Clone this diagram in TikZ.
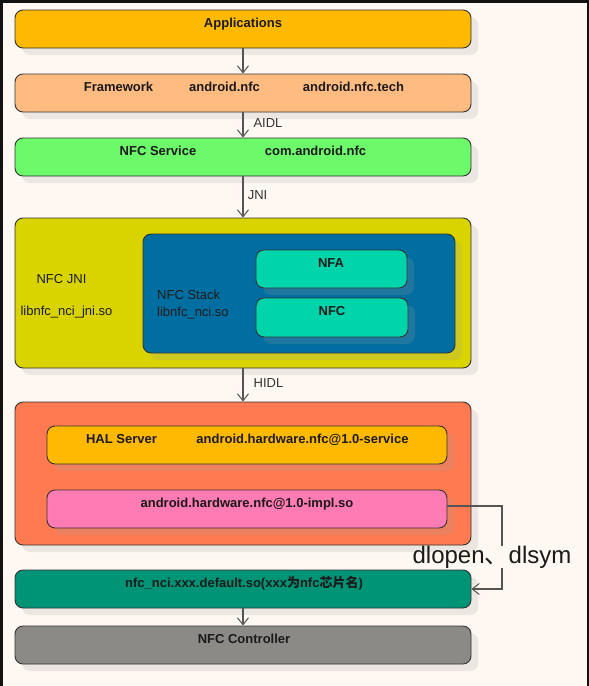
\documentclass[tikz,border=0pt]{standalone}
\usepackage{fontspec}
\setmainfont{Liberation Sans}
\newfontfamily\cjk{Noto Sans CJK SC}
\usetikzlibrary{shadows,arrows.meta}
\definecolor{bgc}{HTML}{FFF8F2}
\definecolor{cApp}{HTML}{FFB900}
\definecolor{cFw}{HTML}{FFBB80}
\definecolor{cSvc}{HTML}{6CF96A}
\definecolor{cJni}{HTML}{D9D300}
\definecolor{cStack}{HTML}{006EA0}
\definecolor{cNfa}{HTML}{00D4AA}
\definecolor{cHal}{HTML}{FF7A50}
\definecolor{cImpl}{HTML}{FF7BB4}
\definecolor{cNci}{HTML}{009477}
\definecolor{cCtl}{HTML}{8C8A86}
\definecolor{txt}{HTML}{1A1A1A}
\definecolor{lnc}{HTML}{555555}
\pgfdeclarelayer{bottom}
\pgfsetlayers{bottom,main}
\tikzset{
  box/.style={draw=black!80, line width=0.9pt, rounded corners=8pt, inner sep=0pt,
    drop shadow={shadow xshift=7pt, shadow yshift=-7pt, fill=gray!75, opacity=0.2}},
  btxt/.style={font=\fontsize{13}{15}\selectfont\bfseries, text=txt, inner sep=0pt, anchor=center, text height=9.3pt, text depth=0pt, yshift=-1pt},
  rtxt/.style={font=\fontsize{13}{15}\selectfont, text=txt, inner sep=0pt, anchor=center, text height=9.3pt, text depth=0pt, yshift=-1pt},
  ltxt/.style={font=\fontsize{13}{15}\selectfont, text=black!80, inner sep=0pt, anchor=center, text height=9.3pt, text depth=0pt},
  conn/.style={draw=lnc, line width=1.1pt, -{Straight Barb[length=7pt,width=11pt,line width=1pt]}},
  plain/.style={draw=lnc, line width=1.1pt}
}
\begin{document}
\begin{tikzpicture}[x=1pt,y=-1pt]
\useasboundingbox (0,0) rectangle (589,686);
\begin{pgfonlayer}{bottom}
\fill[bgc] (0,0) rectangle (589,686);
\fill[black!93] (0,0) rectangle (589,3);
\fill[black!93] (0,0) rectangle (3,686);
\fill[black!93] (587,0) rectangle (589,686);
\end{pgfonlayer}

% boxes
\node[box, fill=cApp, minimum width=456, minimum height=38] (app) at (243,29) {};
\node[box, fill=cFw, minimum width=456, minimum height=38] (fw) at (243,93) {};
\node[box, fill=cSvc, minimum width=456, minimum height=38] (svc) at (243,157) {};
\node[box, fill=cJni, minimum width=456, minimum height=150] (jni) at (243,293) {};
\node[box, fill=cStack, minimum width=312, minimum height=119] (stack) at (299,293.5) {};
\node[box, fill=cNfa, minimum width=151, minimum height=38] (nfa) at (331.5,269) {};
\node[box, fill=cNfa, minimum width=152, minimum height=39] (nfc) at (332,317.5) {};
\node[box, fill=cHal, minimum width=456, minimum height=143] (hal) at (243,473.5) {};
\node[box, fill=cApp, minimum width=400, minimum height=38] (halsrv) at (247,445) {};
\node[box, fill=cImpl, minimum width=400, minimum height=38] (impl) at (247,509) {};
\node[box, fill=cNci, minimum width=456, minimum height=38] (nci) at (243,589) {};
\node[box, fill=cCtl, minimum width=456, minimum height=38] (ctl) at (243,645) {};

% texts
\node[btxt] (tApp) at (243,22) {Applications};
\node[btxt] (tFw1) at (118.5,86) {Framework};
\node[btxt] (tFw2) at (224.5,86) {android.nfc};
\node[btxt] (tFw3) at (353.5,86) {android.nfc.tech};
\node[btxt] (tSvc1) at (158,150) {NFC Service};
\node[btxt] (tSvc2) at (315.5,150) {com.android.nfc};
\node[rtxt] (tJni1) at (61.5,278) {NFC JNI};
\node[rtxt] (tJni2) at (66.5,310) {libnfc\_nci\_jni.so};
\node[rtxt, anchor=west] (tSt1) at (157,294) {NFC Stack};
\node[rtxt, anchor=west] (tSt2) at (157,311) {libnfc\_nci.so};
\node[btxt] (tNfa) at (331,262) {NFA};
\node[btxt] (tNfc) at (332,310) {NFC};
\node[btxt] (tHal1) at (121.5,438) {HAL Server};
\node[btxt] (tHal2) at (302.5,438) {android.hardware.nfc@1.0-service};
\node[btxt] (tImpl) at (247,502) {android.hardware.nfc@1.0-impl.so};
\node[btxt] (tNci) at (244,582) {nfc\_nci.xxx.default.so(xxx{\cjk 为}nfc{\cjk 芯片名})};
\node[btxt] (tCtl) at (244,638) {NFC Controller};

% connectors
\draw[conn] (app.south) -- (fw.north);
\draw[conn] (fw.south) -- (svc.north);
\draw[conn] (svc.south) -- (jni.north);
\draw[conn] (jni.south) -- (hal.north);
\draw[conn] (nci.south) -- (ctl.north);
\node[ltxt] (lAidl) at (268,123) {AIDL};
\node[ltxt] (lJni) at (257.5,195) {JNI};
\node[ltxt] (lHidl) at (268.5,383) {HIDL};

\node[inner sep=0pt, text=txt, font=\fontsize{24}{26}\selectfont, text height=17pt, text depth=5pt] (lDl) at (492,557) {dlopen{\cjk 、}dlsym};
\coordinate (bendx) at (502,0);
\coordinate (implOut) at ([yshift=3pt]impl.east);
\draw[plain] (implOut) -- (implOut -| bendx) -- (lDl.north -| bendx);
\draw[conn] (lDl.south -| bendx) |- (nci.east);
\end{tikzpicture}
\end{document}
